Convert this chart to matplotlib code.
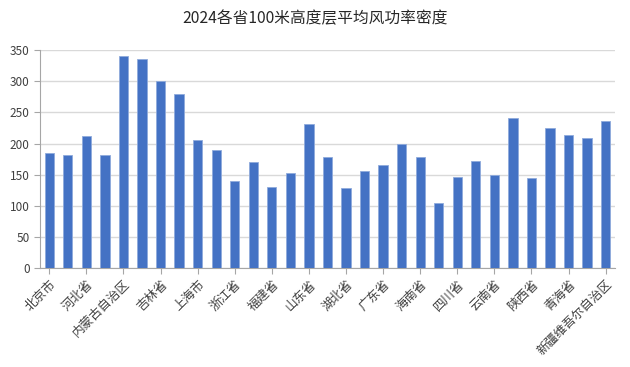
import matplotlib
matplotlib.use("Agg")
import matplotlib.pyplot as plt

plt.rcParams['font.family'] = ['Noto Sans CJK SC', 'DejaVu Sans']

provinces = ["北京市", "天津市", "河北省", "山西省", "内蒙古自治区", "辽宁省", "吉林省",
             "黑龙江省", "上海市", "江苏省", "浙江省", "安徽省", "福建省", "江西省",
             "山东省", "河南省", "湖北省", "湖南省", "广东省", "广西壮族自治区", "海南省",
             "重庆市", "四川省", "贵州省", "云南省", "西藏自治区", "陕西省", "甘肃省",
             "青海省", "宁夏回族自治区", "新疆维吾尔自治区"]
density = [184, 181, 212, 182, 341, 336, 301, 279, 205, 189, 140, 171, 130, 153,
           232, 178, 129, 156, 166, 199, 179, 104, 146, 172, 149, 241, 144, 225,
           214, 209, 237]

fig = plt.figure(figsize=(6.3, 3.67), dpi=100)
ax = fig.add_axes([0.0635, 0.27, 0.9125, 0.593])

x = range(len(provinces))
ax.bar(x, density, width=0.5, color='#4472C4', edgecolor='#8FAADC', linewidth=0.6, zorder=3)

ax.set_xlim(-0.5, len(provinces) - 0.5)
ax.set_ylim(0, 350)
ax.set_yticks(range(0, 351, 50))
ax.yaxis.grid(True, color='#D9D9D9', linewidth=1, zorder=0)

tick_pos = list(range(0, len(provinces), 2))
ax.set_xticks(tick_pos)
ax.set_xticklabels([provinces[i] for i in tick_pos], rotation=45, ha='right',
                   rotation_mode='anchor', fontsize=9, color='#404040')

for s in ['top', 'right']:
    ax.spines[s].set_visible(False)
for s in ['left', 'bottom']:
    ax.spines[s].set_color('#A6A6A6')
ax.tick_params(axis='both', colors='#A6A6A6', length=4, labelsize=8.5, labelcolor='#404040')
ax.tick_params(axis='x', pad=3, labelsize=9)

fig.text(0.5, 0.95, '2024各省100米高度层平均风功率密度', ha='center', va='center',
         fontsize=11.3, color='#262626')

fig.savefig('out.png', dpi=100)
